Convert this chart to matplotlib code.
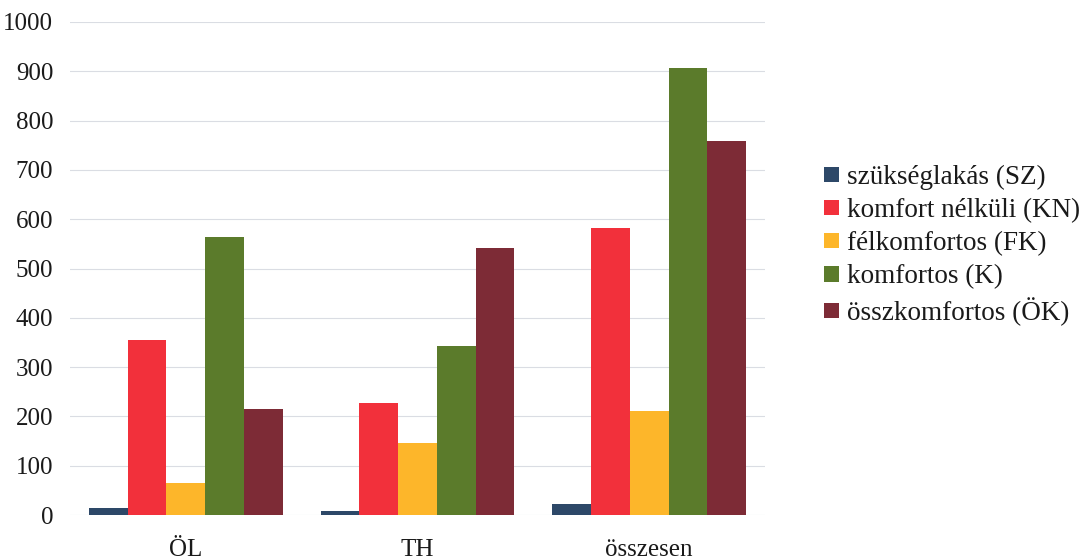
import matplotlib
matplotlib.use("Agg")
import matplotlib.pyplot as plt
import numpy as np

categories = ["ÖL", "TH", "összesen"]
series_names = ["szükséglakás (SZ)", "komfort nélküli (KN)", "félkomfortos (FK)",
                "komfortos (K)", "összkomfortos (ÖK)"]
sz = [14, 8, 22]
kn = [354, 228, 582]
fk = [65, 146, 211]
k = [564, 342, 906]
ok = [216, 542, 758]
values = [sz, kn, fk, k, ok]
colors = ["#2D4868", "#F2303B", "#FDB62A", "#5B7B2B", "#7D2B36"]
yticks = [0, 100, 200, 300, 400, 500, 600, 700, 800, 900, 1000]

plt.rcParams['font.family'] = ['Liberation Serif', 'DejaVu Serif']

fig = plt.figure(figsize=(10.89, 5.59), dpi=100)
ax = fig.add_axes([70/1089, 1 - 515/559, 695/1089, (515-22)/559])

x = np.arange(len(categories))
bw = 0.167
for i, (name, vals, c) in enumerate(zip(series_names, values, colors)):
    ax.bar(x + (i - 2) * bw, vals, width=bw, color=c, label=name, zorder=3)

ax.set_xlim(-0.5, 2.5)
ax.set_ylim(0, 1000)
ax.set_yticks(yticks)
ax.set_yticklabels([str(t) for t in yticks], fontsize=18, color='#1a1a1a')
ax.set_xticks(x)
ax.set_xticklabels(categories, fontsize=18, color='#1a1a1a')
ax.tick_params(axis='both', length=0)
ax.tick_params(axis='y', pad=12)
ax.tick_params(axis='x', pad=17)
for s in ax.spines.values():
    s.set_visible(False)
ax.grid(axis='y', color='#DADDE3', linewidth=0.8, zorder=0)

leg = fig.legend(loc='upper left', bbox_to_anchor=(813/1089, 1 - 154/559),
                 frameon=False, fontsize=19.5, handlelength=0.55, handleheight=0.5,
                 handletextpad=0.32, labelspacing=0.3, borderaxespad=0)
for t in leg.get_texts():
    t.set_color('#1a1a1a')

fig.savefig("out.png", dpi=100)
